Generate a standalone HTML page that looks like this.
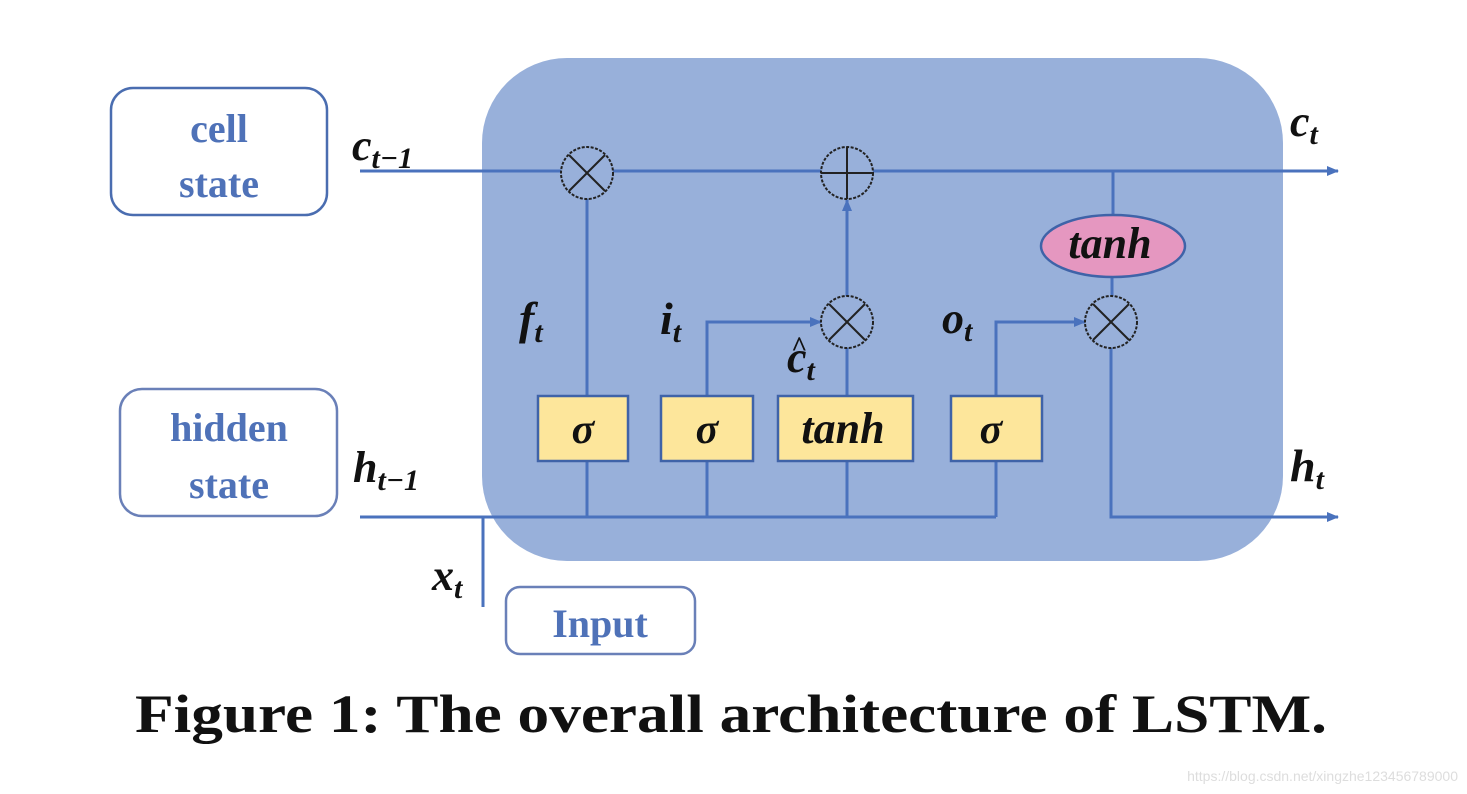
<!DOCTYPE html>
<html><head><meta charset="utf-8"><style>
html,body{margin:0;padding:0;background:#fff;width:1467px;height:794px;overflow:hidden}
svg text{font-family:"Liberation Serif",serif;font-weight:bold}
.m{font-style:italic;fill:#111}
.b{fill:#4f72b8}
</style></head><body>
<svg width="1467" height="794" viewBox="0 0 1467 794" xmlns="http://www.w3.org/2000/svg">
<defs>
<marker id="a" markerWidth="12" markerHeight="12" refX="11" refY="6" orient="auto" markerUnits="userSpaceOnUse">
<path d="M0,1 L12,6 L0,11 z" fill="#4a72bd"/></marker>
</defs>
<rect x="482" y="58" width="801" height="503" rx="85" fill="#98b0da"/>
<rect x="111" y="88" width="216" height="127" rx="22" fill="#fff" stroke="#4a6db0" stroke-width="2.5"/>
<text x="219" y="142" font-size="40" text-anchor="middle" class="b">cell</text>
<text x="219" y="197" font-size="40" text-anchor="middle" class="b">state</text>
<rect x="120" y="389" width="217" height="127" rx="22" fill="#fff" stroke="#6a80b8" stroke-width="2.5"/>
<text x="229" y="441" font-size="40" text-anchor="middle" class="b">hidden</text>
<text x="229" y="498" font-size="40" text-anchor="middle" class="b">state</text>
<rect x="506" y="587" width="189" height="67" rx="14" fill="#fff" stroke="#6a80b8" stroke-width="2.5"/>
<text x="600" y="637" font-size="40" text-anchor="middle" class="b">Input</text>
<g stroke="#4a72bd" stroke-width="3" fill="none">
<line x1="360" y1="171" x2="1338" y2="171" marker-end="url(#a)"/>
<line x1="360" y1="517" x2="996" y2="517"/>
<line x1="483" y1="517" x2="483" y2="607"/>
<line x1="587" y1="199" x2="587" y2="396"/>
<line x1="587" y1="461" x2="587" y2="517"/>
<polyline points="707,396 707,322 821,322" marker-end="url(#a)"/>
<line x1="707" y1="461" x2="707" y2="517"/>
<line x1="847" y1="396" x2="847" y2="348"/>
<line x1="847" y1="296" x2="847" y2="200" marker-end="url(#a)"/>
<line x1="847" y1="461" x2="847" y2="517"/>
<polyline points="996,396 996,322 1085,322" marker-end="url(#a)"/>
<line x1="996" y1="461" x2="996" y2="517"/>
<line x1="1113" y1="171" x2="1113" y2="216"/>
<line x1="1112" y1="276" x2="1112" y2="296"/>
<polyline points="1111,348 1111,517 1338,517" marker-end="url(#a)"/>
</g>
<g stroke="#222" stroke-width="2" fill="none" stroke-dasharray="3 1.5">
<circle cx="587" cy="173" r="26" fill="#98b0da"/>
<circle cx="847" cy="173" r="26" fill="#98b0da"/>
<circle cx="847" cy="322" r="26" fill="#98b0da"/>
<circle cx="1111" cy="322" r="26" fill="#98b0da"/>
</g>
<g stroke="#222" stroke-width="2">
<line x1="569" y1="155" x2="605" y2="191"/><line x1="605" y1="155" x2="569" y2="191"/>
<line x1="847" y1="147" x2="847" y2="199"/><line x1="821" y1="173" x2="873" y2="173"/>
<line x1="829" y1="304" x2="865" y2="340"/><line x1="865" y1="304" x2="829" y2="340"/>
<line x1="1093" y1="304" x2="1129" y2="340"/><line x1="1129" y1="304" x2="1093" y2="340"/>
</g>
<g fill="#fde69b" stroke="#3f63a8" stroke-width="2.5">
<rect x="538" y="396" width="90" height="65"/>
<rect x="661" y="396" width="92" height="65"/>
<rect x="778" y="396" width="135" height="65"/>
<rect x="951" y="396" width="91" height="65"/>
</g>
<text x="583" y="443" font-size="42" text-anchor="middle" class="m">σ</text>
<text x="707" y="443" font-size="42" text-anchor="middle" class="m">σ</text>
<text x="843" y="443" font-size="44" text-anchor="middle" class="m">tanh</text>
<text x="991" y="443" font-size="42" text-anchor="middle" class="m">σ</text>
<ellipse cx="1113" cy="246" rx="72" ry="31" fill="#e597c0" stroke="#3f63a8" stroke-width="2.5"/>
<text x="1110" y="258" font-size="44" text-anchor="middle" class="m">tanh</text>
<text x="352" y="160" font-size="44" class="m">c<tspan font-size="30" dy="8">t−1</tspan></text>
<text x="353" y="482" font-size="44" class="m">h<tspan font-size="30" dy="8">t−1</tspan></text>
<text x="432" y="590" font-size="44" class="m">x<tspan font-size="30" dy="8">t</tspan></text>
<text x="519" y="334" font-size="46" class="m">f<tspan font-size="30" dy="8">t</tspan></text>
<text x="660" y="334" font-size="46" class="m">i<tspan font-size="30" dy="8">t</tspan></text>
<text x="942" y="333" font-size="44" class="m">o<tspan font-size="30" dy="8">t</tspan></text>
<text x="787" y="372" font-size="44" class="m">c<tspan font-size="30" dy="8">t</tspan></text>
<text x="791" y="356" font-size="28" class="m">^</text>
<text x="1290" y="136" font-size="44" class="m">c<tspan font-size="30" dy="8">t</tspan></text>
<text x="1290" y="481" font-size="46" class="m">h<tspan font-size="30" dy="8">t</tspan></text>
<text x="135" y="732" font-size="54" textLength="1192" lengthAdjust="spacingAndGlyphs" fill="#111">Figure 1: The overall architecture of LSTM.</text>
<text x="1458" y="781" font-size="14" text-anchor="end" fill="#ddd" style="font-family:'Liberation Sans',sans-serif;font-weight:normal">https://blog.csdn.net/xingzhe123456789000</text>
</svg>
</body></html>
